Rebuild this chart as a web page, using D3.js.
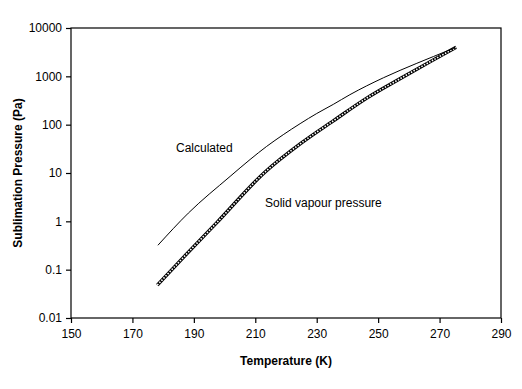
<!DOCTYPE html>
<html>
<head>
<meta charset="utf-8">
<script src="https://cdn.jsdelivr.net/npm/d3@7"></script>
<style>
  body { margin: 0; background: #fff; }
  svg { font-family: "Liberation Sans", Arial, sans-serif; }
</style>
</head>
<body>
<svg width="522" height="389"></svg>
<script>
// values
var calcT = [178.3, 188.2, 201.8, 208.3, 213.7, 219.1, 224.6, 230, 235.4, 240.8, 251.7, 262.6, 268, 275];
var calcP = [0.32, 1.48, 8.5, 19, 35.5, 62, 105, 170, 263, 417, 933, 1860, 2570, 3900];

var solidT = [178.1, 186.6, 197.4, 213.2, 224.6, 235.4, 246.3, 257.1, 268, 275.4];
var solidP = [0.048, 0.18, 0.93, 10.5, 40, 120, 355, 890, 2190, 3980];

var xTicks = [150, 170, 190, 210, 230, 250, 270, 290];
var yTicks = [0.01, 0.1, 1, 10, 100, 1000, 10000];

var svg = d3.select("svg"),
    margin = {top: 28, right: 21, bottom: 71, left: 71},
    width = 522 - margin.left - margin.right,
    height = 389 - margin.top - margin.bottom;

var x = d3.scaleLinear().domain([150, 290]).range([0, width]);
var y = d3.scaleLog().domain([0.01, 10000]).range([height, 0]);

var g = svg.append("g")
  .attr("transform", "translate(" + margin.left + "," + margin.top + ")");

// frame
g.append("rect")
  .attr("width", width)
  .attr("height", height)
  .attr("fill", "none")
  .attr("stroke", "#000")
  .attr("stroke-width", 1.2);

g.append("g")
  .attr("transform", "translate(0," + height + ")")
  .call(d3.axisBottom(x).tickValues(xTicks).tickSizeInner(5).tickSizeOuter(0).tickPadding(6))
  .call(function(a) { a.select(".domain").remove(); });

g.append("g")
  .call(d3.axisLeft(y).tickValues(yTicks).tickFormat(function(d) { return String(d); })
        .tickSizeInner(5).tickSizeOuter(0).tickPadding(4))
  .call(function(a) { a.select(".domain").remove(); });

g.selectAll(".tick text").attr("font-size", 12).attr("font-family", "Liberation Sans, Arial, sans-serif").attr("fill", "#000");
g.selectAll(".tick line").attr("stroke", "#000").attr("stroke-width", 1.2);

// axis titles
svg.append("text")
  .attr("x", margin.left + width / 2)
  .attr("y", 365)
  .attr("text-anchor", "middle")
  .attr("font-size", 12)
  .attr("font-weight", "bold")
  .text("Temperature (K)");

svg.append("text")
  .attr("transform", "translate(22," + (margin.top + height / 2) + ") rotate(-90)")
  .attr("text-anchor", "middle")
  .attr("font-size", 12)
  .attr("font-weight", "bold")
  .text("Sublimation Pressure (Pa)");

var line = d3.line()
  .x(function(d) { return x(d[0]); })
  .y(function(d) { return y(d[1]); })
  .curve(d3.curveMonotoneX);

var calc = d3.zip(calcT, calcP);
var solid = d3.zip(solidT, solidP);

// solid vapour pressure: dense hollow markers look like a hatched band
g.append("path")
  .datum(solid)
  .attr("d", line)
  .attr("fill", "none")
  .attr("stroke", "#000")
  .attr("stroke-width", 3.4);
g.append("path")
  .datum(solid)
  .attr("d", line)
  .attr("fill", "none")
  .attr("stroke", "#fff")
  .attr("stroke-width", 1.6)
  .attr("stroke-dasharray", "1.5,1.5");

// calculated
g.append("path")
  .datum(calc)
  .attr("d", line)
  .attr("fill", "none")
  .attr("stroke", "#000")
  .attr("stroke-width", 1);

// labels
svg.append("text")
  .attr("x", 176)
  .attr("y", 152)
  .attr("font-size", 12)
  .text("Calculated");

svg.append("text")
  .attr("x", 265)
  .attr("y", 207)
  .attr("font-size", 12)
  .text("Solid vapour pressure");
</script>
</body>
</html>
